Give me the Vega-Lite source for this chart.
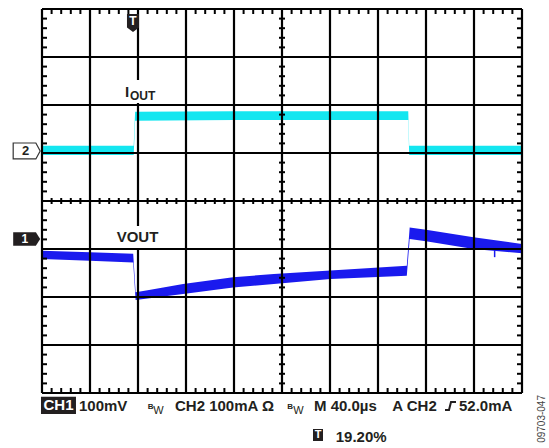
{
  "$schema": "https://vega.github.io/schema/vega-lite/v6.json",
  "width": 480,
  "height": 384,
  "autosize": {"type": "none"},
  "padding": {"left": 42, "top": 9, "right": 27, "bottom": 55},
  "background": "white",
  "config": {"view": {"stroke": null}, "font": "Liberation Sans", "axis": {"disable": true}},
  "datasets": {
    "cyan": [
      {"x": 0, "y": 1.15, "y2": 0.96},
      {"x": 1.91, "y": 1.15, "y2": 0.96},
      {"x": 1.94, "y": 1.86, "y2": 1.67},
      {"x": 4, "y": 1.87, "y2": 1.69},
      {"x": 7.63, "y": 1.87, "y2": 1.69},
      {"x": 7.65, "y": 1.15, "y2": 0.96},
      {"x": 10, "y": 1.15, "y2": 0.96}
    ],
    "blue": [
      {"x": 0, "y": -1.035, "y2": -1.21},
      {"x": 1.0, "y": -1.07, "y2": -1.245},
      {"x": 1.9, "y": -1.1, "y2": -1.28},
      {"x": 1.95, "y": -1.9, "y2": -2.06},
      {"x": 2.2, "y": -1.86, "y2": -2.03},
      {"x": 2.94, "y": -1.73, "y2": -1.94},
      {"x": 3.98, "y": -1.59, "y2": -1.8},
      {"x": 4.83, "y": -1.52, "y2": -1.73},
      {"x": 6.01, "y": -1.45, "y2": -1.625},
      {"x": 7.6, "y": -1.35, "y2": -1.556},
      {"x": 7.66, "y": -0.55, "y2": -0.79},
      {"x": 8.0, "y": -0.6, "y2": -0.84},
      {"x": 8.99, "y": -0.756, "y2": -1.0},
      {"x": 10, "y": -0.896, "y2": -1.09}
    ],
    "gx": [{"x": 0}, {"x": 1}, {"x": 2}, {"x": 3}, {"x": 4}, {"x": 5}, {"x": 6}, {"x": 7}, {"x": 8}, {"x": 9}, {"x": 10}],
    "gy": [{"y": -4}, {"y": -3}, {"y": -2}, {"y": -1}, {"y": 0}, {"y": 1}, {"y": 2}, {"y": 3}, {"y": 4}],
    "mx": [
      {"x": 0}, {"x": 0.2}, {"x": 0.4}, {"x": 0.6}, {"x": 0.8}, {"x": 1}, {"x": 1.2}, {"x": 1.4}, {"x": 1.6}, {"x": 1.8},
      {"x": 2}, {"x": 2.2}, {"x": 2.4}, {"x": 2.6}, {"x": 2.8}, {"x": 3}, {"x": 3.2}, {"x": 3.4}, {"x": 3.6}, {"x": 3.8},
      {"x": 4}, {"x": 4.2}, {"x": 4.4}, {"x": 4.6}, {"x": 4.8}, {"x": 5}, {"x": 5.2}, {"x": 5.4}, {"x": 5.6}, {"x": 5.8},
      {"x": 6}, {"x": 6.2}, {"x": 6.4}, {"x": 6.6}, {"x": 6.8}, {"x": 7}, {"x": 7.2}, {"x": 7.4}, {"x": 7.6}, {"x": 7.8},
      {"x": 8}, {"x": 8.2}, {"x": 8.4}, {"x": 8.6}, {"x": 8.8}, {"x": 9}, {"x": 9.2}, {"x": 9.4}, {"x": 9.6}, {"x": 9.8}, {"x": 10}
    ],
    "my": [
      {"y": -4}, {"y": -3.8}, {"y": -3.6}, {"y": -3.4}, {"y": -3.2}, {"y": -3}, {"y": -2.8}, {"y": -2.6}, {"y": -2.4}, {"y": -2.2},
      {"y": -2}, {"y": -1.8}, {"y": -1.6}, {"y": -1.4}, {"y": -1.2}, {"y": -1}, {"y": -0.8}, {"y": -0.6}, {"y": -0.4}, {"y": -0.2},
      {"y": 0}, {"y": 0.2}, {"y": 0.4}, {"y": 0.6}, {"y": 0.8}, {"y": 1}, {"y": 1.2}, {"y": 1.4}, {"y": 1.6}, {"y": 1.8},
      {"y": 2}, {"y": 2.2}, {"y": 2.4}, {"y": 2.6}, {"y": 2.8}, {"y": 3}, {"y": 3.2}, {"y": 3.4}, {"y": 3.6}, {"y": 3.8}, {"y": 4}
    ]
  },
  "layer": [
    {
      "data": {"name": "cyan"},
      "mark": {"type": "area", "color": "#14e6f0", "opacity": 1},
      "encoding": {
        "x": {"field": "x", "type": "quantitative", "scale": {"domain": [0, 10], "nice": false, "zero": false}},
        "y": {"field": "y", "type": "quantitative", "scale": {"domain": [-4, 4], "nice": false, "zero": false}},
        "y2": {"field": "y2"}
      }
    },
    {
      "data": {"name": "blue"},
      "mark": {"type": "area", "color": "#1a1aee", "opacity": 1},
      "encoding": {
        "x": {"field": "x", "type": "quantitative", "scale": {"domain": [0, 10], "nice": false, "zero": false}},
        "y": {"field": "y", "type": "quantitative", "scale": {"domain": [-4, 4], "nice": false, "zero": false}},
        "y2": {"field": "y2"}
      }
    },
    {
      "data": {"values": [{"x": 9.43, "y": -0.95, "y2": -1.17}]},
      "mark": {"type": "rule", "color": "#1a1aee", "strokeWidth": 1.5},
      "encoding": {
        "x": {"field": "x", "type": "quantitative"},
        "y": {"field": "y", "type": "quantitative"},
        "y2": {"field": "y2"}
      }
    },
    {
      "data": {"name": "gx"},
      "mark": {"type": "rule", "color": "black", "strokeWidth": 2.2},
      "encoding": {"x": {"field": "x", "type": "quantitative"}}
    },
    {
      "data": {"name": "gy"},
      "mark": {"type": "rule", "color": "black", "strokeWidth": 2.2},
      "encoding": {"y": {"field": "y", "type": "quantitative"}}
    },
    {
      "data": {"name": "mx"},
      "mark": {"type": "tick", "orient": "vertical", "size": 10, "thickness": 2, "color": "black", "opacity": 1, "clip": true},
      "encoding": {"x": {"field": "x", "type": "quantitative"}, "y": {"datum": 4, "type": "quantitative"}}
    },
    {
      "data": {"name": "mx"},
      "mark": {"type": "tick", "orient": "vertical", "size": 10, "thickness": 2, "color": "black", "opacity": 1, "clip": true},
      "encoding": {"x": {"field": "x", "type": "quantitative"}, "y": {"datum": -4, "type": "quantitative"}}
    },
    {
      "data": {"name": "mx"},
      "mark": {"type": "tick", "orient": "vertical", "size": 6, "thickness": 2, "color": "black", "opacity": 1},
      "encoding": {"x": {"field": "x", "type": "quantitative"}, "y": {"datum": 0, "type": "quantitative"}}
    },
    {
      "data": {"name": "my"},
      "mark": {"type": "tick", "orient": "horizontal", "size": 10, "thickness": 2, "color": "black", "opacity": 1, "clip": true},
      "encoding": {"y": {"field": "y", "type": "quantitative"}, "x": {"datum": 0, "type": "quantitative"}}
    },
    {
      "data": {"name": "my"},
      "mark": {"type": "tick", "orient": "horizontal", "size": 10, "thickness": 2, "color": "black", "opacity": 1, "clip": true},
      "encoding": {"y": {"field": "y", "type": "quantitative"}, "x": {"datum": 10, "type": "quantitative"}}
    },
    {
      "data": {"name": "my"},
      "mark": {"type": "tick", "orient": "horizontal", "size": 6, "thickness": 2, "color": "black", "opacity": 1},
      "encoding": {"y": {"field": "y", "type": "quantitative"}, "x": {"datum": 5, "type": "quantitative"}}
    },
    {
      "data": {"values": [
        {"x": 1.667, "x2": 2.458, "y": 2.521, "y2": 2.042},
        {"x": 1.479, "x2": 2.521, "y": -0.521, "y2": -0.979}
      ]},
      "mark": {"type": "rect", "color": "white", "opacity": 1},
      "encoding": {
        "x": {"field": "x", "type": "quantitative"}, "x2": {"field": "x2"},
        "y": {"field": "y", "type": "quantitative"}, "y2": {"field": "y2"}
      }
    },
    {
      "data": {"values": [
        {"x": -0.021, "x2": 0.708, "y": -4.08, "y2": -4.44},
        {"x": 5.646, "x2": 5.854, "y": -4.75, "y2": -5.0}
      ]},
      "mark": {"type": "rect", "color": "#231f20", "opacity": 1},
      "encoding": {
        "x": {"field": "x", "type": "quantitative"}, "x2": {"field": "x2"},
        "y": {"field": "y", "type": "quantitative"}, "y2": {"field": "y2"}
      }
    },
    {
      "data": {"values": [
        {"x": 0.771, "y": -4.385, "t": "100mV"},
        {"x": 2.771, "y": -4.385, "t": "CH2 100mA Ω"},
        {"x": 5.667, "y": -4.385, "t": "M 40.0µs"},
        {"x": 7.298, "y": -4.385, "t": "A CH2"},
        {"x": 8.6875, "y": -4.385, "t": "52.0mA"},
        {"x": 6.119, "y": -5.02, "t": "19.20%"},
        {"x": 1.556, "y": -0.86, "t": "VOUT"},
        {"x": 1.729, "y": 2.173, "t": "I"}
      ]},
      "mark": {"type": "text", "align": "left", "baseline": "alphabetic", "fontSize": 15, "fontWeight": "bold", "color": "#231f20"},
      "encoding": {
        "x": {"field": "x", "type": "quantitative"},
        "y": {"field": "y", "type": "quantitative"},
        "text": {"field": "t"}
      }
    },
    {
      "data": {"values": [{"x": 1.833, "y": 2.104, "t": "OUT"}]},
      "mark": {"type": "text", "align": "left", "baseline": "alphabetic", "fontSize": 12, "fontWeight": "bold", "color": "#231f20"},
      "encoding": {
        "x": {"field": "x", "type": "quantitative"},
        "y": {"field": "y", "type": "quantitative"},
        "text": {"field": "t"}
      }
    },
    {
      "data": {"values": [{"x": 2.202, "y": -4.333, "t": "B"}, {"x": 5.11, "y": -4.333, "t": "B"}]},
      "mark": {"type": "text", "align": "left", "baseline": "alphabetic", "fontSize": 8, "fontWeight": "bold", "color": "#231f20"},
      "encoding": {
        "x": {"field": "x", "type": "quantitative"},
        "y": {"field": "y", "type": "quantitative"},
        "text": {"field": "t"}
      }
    },
    {
      "data": {"values": [{"x": 2.319, "y": -4.438, "t": "W"}, {"x": 5.235, "y": -4.438, "t": "W"}]},
      "mark": {"type": "text", "align": "left", "baseline": "alphabetic", "fontSize": 11, "color": "#231f20"},
      "encoding": {
        "x": {"field": "x", "type": "quantitative"},
        "y": {"field": "y", "type": "quantitative"},
        "text": {"field": "t"}
      }
    },
    {
      "data": {"values": [
        {"x": 8.396, "y": -4.354},
        {"x": 8.479, "y": -4.354},
        {"x": 8.521, "y": -4.188},
        {"x": 8.625, "y": -4.188}
      ]},
      "mark": {"type": "line", "color": "#231f20", "strokeWidth": 2},
      "encoding": {
        "x": {"field": "x", "type": "quantitative"},
        "y": {"field": "y", "type": "quantitative"}
      }
    },
    {
      "data": {"values": [{"x": -0.319, "y": 1.042}]},
      "mark": {"type": "point", "shape": "M -1 -0.59 L 0.68 -0.59 L 1 0 L 0.68 0.59 L -1 0.59 Z", "size": 729, "filled": true, "fill": "white", "stroke": "#333333", "strokeWidth": 1.2, "opacity": 1},
      "encoding": {
        "x": {"field": "x", "type": "quantitative"},
        "y": {"field": "y", "type": "quantitative"}
      }
    },
    {
      "data": {"values": [{"x": -0.319, "y": -0.792}]},
      "mark": {"type": "point", "shape": "M -1 -0.5 L 0.68 -0.5 L 1 0 L 0.68 0.5 L -1 0.5 Z", "size": 729, "filled": true, "fill": "#231f20", "strokeWidth": 0, "opacity": 1},
      "encoding": {
        "x": {"field": "x", "type": "quantitative"},
        "y": {"field": "y", "type": "quantitative"}
      }
    },
    {
      "data": {"values": [{"x": 1.896, "y": 3.71}]},
      "mark": {"type": "point", "shape": "M -0.67 -1 L 0.67 -1 L 0.67 0.5 L 0 1 L -0.67 0.5 Z", "size": 324, "filled": true, "fill": "#231f20", "strokeWidth": 0, "opacity": 1},
      "encoding": {
        "x": {"field": "x", "type": "quantitative"},
        "y": {"field": "y", "type": "quantitative"}
      }
    },
    {
      "data": {"values": [{"x": -0.34, "y": 1.042, "t": "2"}]},
      "mark": {"type": "text", "align": "center", "baseline": "middle", "fontSize": 13, "fontWeight": "bold", "color": "#231f20", "dy": 0.5},
      "encoding": {
        "x": {"field": "x", "type": "quantitative"},
        "y": {"field": "y", "type": "quantitative"},
        "text": {"field": "t"}
      }
    },
    {
      "data": {"values": [
        {"x": -0.36, "y": -0.792, "t": "1", "s": 12},
        {"x": 0.344, "y": -4.26, "t": "CH1", "s": 15},
        {"x": 1.896, "y": 3.76, "t": "T", "s": 12},
        {"x": 5.75, "y": -4.875, "t": "T", "s": 11}
      ]},
      "mark": {"type": "text", "align": "center", "baseline": "middle", "fontWeight": "bold", "color": "white"},
      "encoding": {
        "x": {"field": "x", "type": "quantitative"},
        "y": {"field": "y", "type": "quantitative"},
        "text": {"field": "t"},
        "size": {"field": "s", "type": "quantitative", "scale": null}
      }
    },
    {
      "data": {"values": [{"x": 10.42, "y": -4.54, "t": "09703-047"}]},
      "mark": {"type": "text", "align": "center", "baseline": "middle", "angle": 270, "fontSize": 10, "color": "#444444"},
      "encoding": {
        "x": {"field": "x", "type": "quantitative"},
        "y": {"field": "y", "type": "quantitative"},
        "text": {"field": "t"}
      }
    }
  ]
}
